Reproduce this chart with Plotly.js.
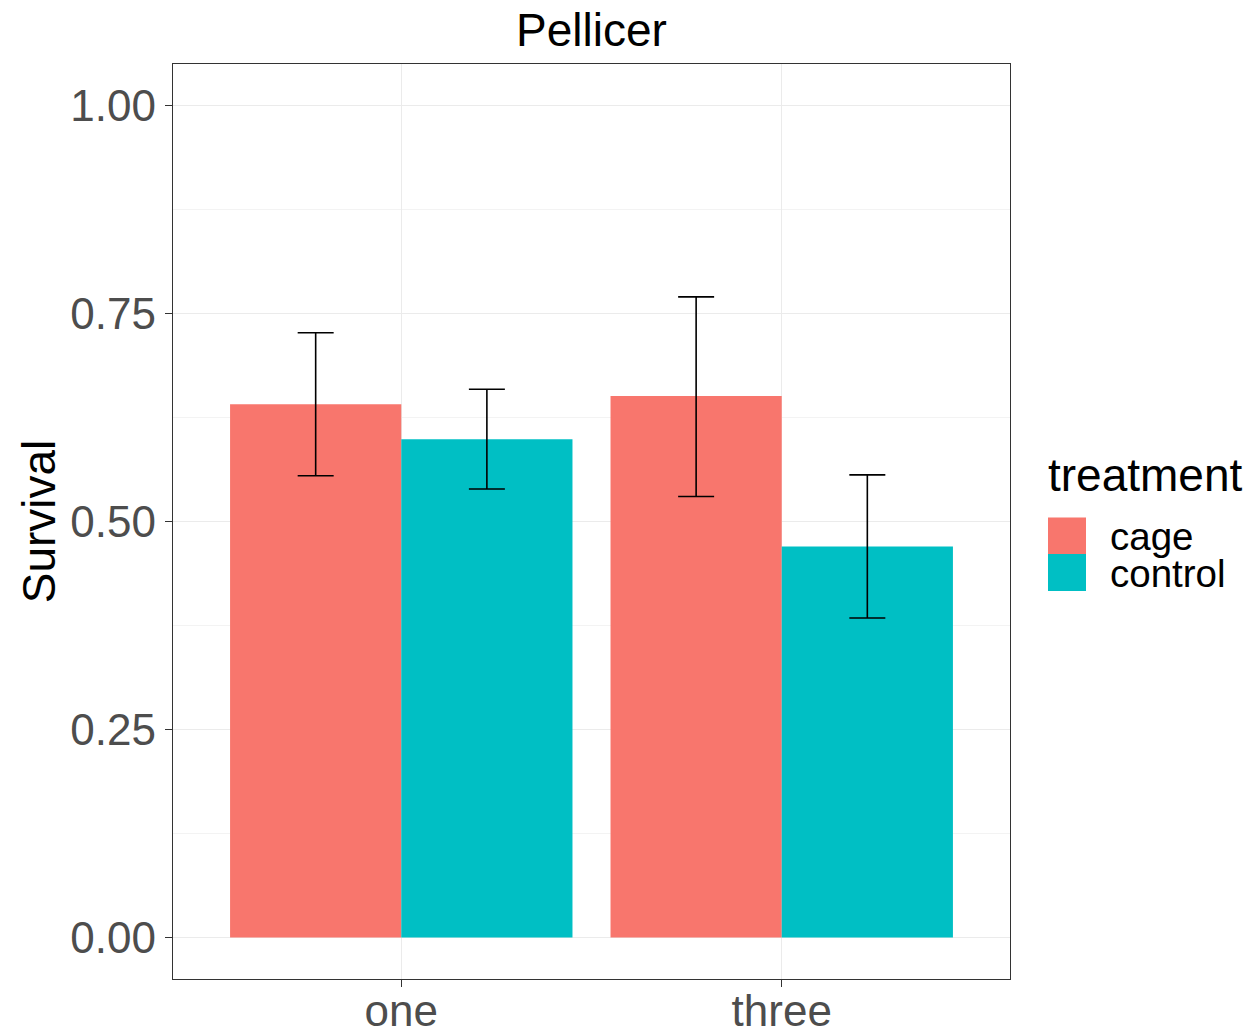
<!DOCTYPE html>
<html>
<head>
<meta charset="utf-8">
<script src="https://cdn.plot.ly/plotly-3.0.1.min.js"></script>
<style>html,body{margin:0;padding:0;background:#fff;}#chart{width:1252px;height:1032px;}</style>
</head>
<body>
<div id="chart"></div>
<script>
// Data
const groups = ["one", "three"];
const treatments = ["cage", "control"];
const cageMean = [0.641, 0.651];
const cageLower = [0.555, 0.530];
const cageUpper = [0.727, 0.770];
const controlMean = [0.599, 0.470];
const controlLower = [0.539, 0.384];
const controlUpper = [0.659, 0.556];
const yTickVals = [0, 0.25, 0.5, 0.75, 1];
const yTickText = ["0.00", "0.25", "0.50", "0.75", "1.00"];

const colors = ["#F8766D", "#00BFC4"];
const FONT = "Liberation Sans, Arial, Helvetica, sans-serif";

function mkTrace(name, mean, lo, hi, color) {
  return {
    type: "bar", name: name, x: groups, y: mean,
    marker: {color: color, line: {width: 0}},
    error_y: {
      type: "data", symmetric: false,
      array: mean.map((m, i) => hi[i] - m),
      arrayminus: mean.map((m, i) => m - lo[i]),
      color: "#000000", thickness: 1.6, width: 18, visible: true
    },
    showlegend: false, hoverinfo: "x+y"
  };
}

const traces = [
  mkTrace(treatments[0], cageMean, cageLower, cageUpper, colors[0]),
  mkTrace(treatments[1], controlMean, controlLower, controlUpper, colors[1])
];

// plot area in px
const L = 173, R = 1010, T = 64, B = 979;
const W = R - L, H = B - T;
const px2x = p => (p - L) / W;
const py2y = p => (B - p) / H;

const shapes = [];
const annotations = [];
// legend keys
const keyTop = [517.5, 554];
treatments.forEach((t, i) => {
  shapes.push({type: "rect", xref: "paper", yref: "paper",
    x0: px2x(1048), x1: px2x(1086), y0: py2y(keyTop[i] + 37), y1: py2y(keyTop[i]),
    fillcolor: colors[i], line: {width: 0}});
  annotations.push({xref: "paper", yref: "paper", x: px2x(1108), y: py2y(keyTop[i] + 19),
    xanchor: "left", yanchor: "middle", showarrow: false, text: t,
    font: {family: FONT, size: 38.5, color: "#000000"}});
});
annotations.push({xref: "paper", yref: "paper", x: px2x(1046), y: py2y(475),
  xanchor: "left", yanchor: "middle", showarrow: false, text: "treatment",
  font: {family: FONT, size: 46, color: "#000000"}});

const layout = {
  width: 1252, height: 1032,
  margin: {l: L, r: 1252 - R, t: T, b: 1032 - B, pad: 0},
  paper_bgcolor: "#ffffff", plot_bgcolor: "#ffffff",
  barmode: "group", bargap: 0.1, bargroupgap: 0,
  title: {text: "Pellicer", x: 0.5, xref: "paper", xanchor: "center",
    y: 1 - 30 / 1032, yanchor: "middle", font: {family: FONT, size: 46, color: "#000000"}},
  xaxis: {
    type: "category", range: [-0.6, 1.6], fixedrange: true,
    showgrid: true, gridcolor: "#EBEBEB", gridwidth: 1.2,
    showline: true, mirror: true, linecolor: "#333333", linewidth: 1.3,
    ticks: "outside", ticklen: 7, tickcolor: "#333333", tickwidth: 1.3,
    tickfont: {family: FONT, size: 44, color: "#4D4D4D"},
    ticklabelstandoff: -14,
    zeroline: false, automargin: false
  },
  yaxis: {
    range: [-0.05, 1.05], fixedrange: true,
    tickmode: "array", tickvals: yTickVals, ticktext: yTickText,
    showgrid: true, gridcolor: "#EBEBEB", gridwidth: 1.2,
    minor: {tickmode: "array", tickvals: [0.125, 0.375, 0.625, 0.875], showgrid: true, gridcolor: "#F3F3F3", gridwidth: 1, ticks: ""},
    showline: true, mirror: true, linecolor: "#333333", linewidth: 1.3,
    ticks: "outside", ticklen: 7, tickcolor: "#333333", tickwidth: 1.3,
    tickfont: {family: FONT, size: 44, color: "#4D4D4D"},
    title: {text: "Survival", font: {family: FONT, size: 46, color: "#000000"}, standoff: 0},
    zeroline: false, automargin: false
  },
  shapes: shapes,
  annotations: annotations
};

Plotly.newPlot("chart", traces, layout, {staticPlot: true, displayModeBar: false});
</script>
</body>
</html>
